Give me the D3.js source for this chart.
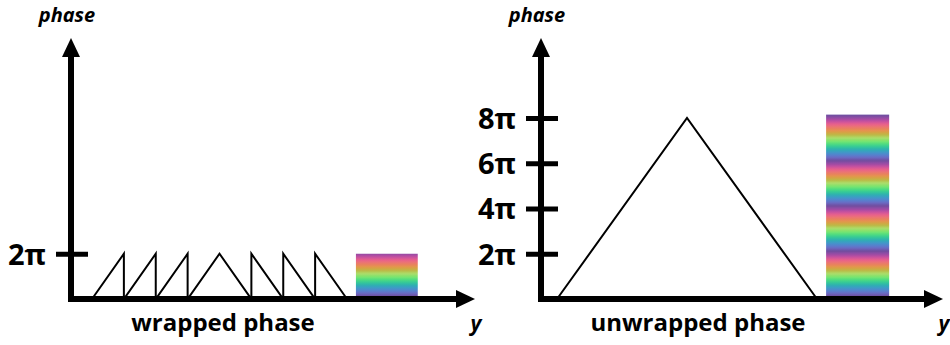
<!DOCTYPE html>
<html>
<head>
<meta charset="utf-8">
<script src="https://cdn.jsdelivr.net/npm/d3@7"></script>
<style>
  body { margin: 0; background: #fff; }
  svg { display: block; font-family: "Open Sans", sans-serif; }
</style>
</head>
<body>
<div id="chart"></div>
<script>
// phase values are in units of pi, y positions in arbitrary units
var wrappedY     = [0, 1, 1, 2, 2, 3, 3, 4, 5, 5, 6, 6, 7, 7, 8];
var wrappedPhase = [0, 2, 0, 2, 0, 2, 0, 2, 0, 2, 0, 2, 0, 2, 0];
var unwrappedY     = [0, 4, 8];
var unwrappedPhase = [0, 8, 0];
var wrappedTicks   = [2];
var unwrappedTicks = [2, 4, 6, 8];
var barY = [8.28, 10.22];
var wrappedBar   = [0, 2];
var unwrappedBar = [0, 8.15];

var W = 950, H = 345;
var axisY = 299, topTip = 38;

var svg = d3.select("#chart").append("svg")
  .attr("width", W).attr("height", H);

var y = d3.scaleLinear().domain([0, 8]).range([axisY, 118]);

// repeating rainbow, one period = 2pi
var grad = svg.append("defs").append("linearGradient")
  .attr("id", "rainbow")
  .attr("gradientUnits", "userSpaceOnUse")
  .attr("spreadMethod", "repeat")
  .attr("x1", 0).attr("x2", 0)
  .attr("y1", y(2)).attr("y2", y(0));
grad.selectAll("stop")
  .data(d3.range(0, 1.0001, 0.025))
  .enter().append("stop")
  .attr("offset", function(o){ return o; })
  .attr("stop-color", function(o){
    var c = d3.hsl(d3.interpolateRainbow((o + 0.06) % 1));
    c.s = c.s * 0.75;
    return c.formatHex();
  });

var panels = [
  {ax: 71, tip: 475, range: [92, 347], xs: wrappedY, ps: wrappedPhase,
   ticks: wrappedTicks, bar: wrappedBar, title: "wrapped phase", tcx: 223},
  {ax: 541, tip: 943, range: [557, 817], xs: unwrappedY, ps: unwrappedPhase,
   ticks: unwrappedTicks, bar: unwrappedBar, title: "unwrapped phase", tcx: 698}
];

panels.forEach(function(p){
  var x = d3.scaleLinear().domain([0, 8]).range(p.range);
  var g = svg.append("g");

  // colour bar
  g.append("rect")
    .attr("x", x(barY[0]))
    .attr("width", x(barY[1]) - x(barY[0]))
    .attr("y", y(p.bar[1]))
    .attr("height", y(p.bar[0]) - y(p.bar[1]))
    .attr("fill", "url(#rainbow)");

  // phase curve
  var pts = p.xs.map(function(v, i){ return [v, p.ps[i]]; });
  g.append("path")
    .attr("d", d3.line().x(function(d){ return x(d[0]); }).y(function(d){ return y(d[1]); })(pts))
    .attr("fill", "none")
    .attr("stroke", "#000")
    .attr("stroke-width", 2);

  // y axis ticks
  var yAxis = g.append("g")
    .attr("transform", "translate(" + p.ax + ",0)")
    .call(d3.axisLeft(y).tickValues(p.ticks).tickFormat(function(d){ return d + "π"; }).tickSize(0));
  yAxis.select(".domain").remove();
  yAxis.selectAll(".tick line")
    .attr("x1", -15).attr("x2", 17)
    .attr("stroke", "#000").attr("stroke-width", 5);
  yAxis.selectAll(".tick text")
    .attr("x", -25)
    .attr("dy", "0.36em")
    .style("font-family", "'Open Sans', sans-serif")
    .style("font-size", "29px")
    .style("font-weight", "bold")
    .attr("fill", "#000");

  // axis lines + arrows
  g.append("line")
    .attr("x1", p.ax).attr("x2", p.ax)
    .attr("y1", axisY + 3).attr("y2", topTip + 15)
    .attr("stroke", "#000").attr("stroke-width", 6);
  g.append("path")
    .attr("d", "M" + p.ax + "," + topTip + "L" + (p.ax + 9) + "," + (topTip + 19) + "L" + (p.ax - 9) + "," + (topTip + 19) + "Z")
    .attr("fill", "#000");
  g.append("line")
    .attr("x1", p.ax - 3).attr("x2", p.tip - 15)
    .attr("y1", axisY).attr("y2", axisY)
    .attr("stroke", "#000").attr("stroke-width", 6);
  g.append("path")
    .attr("d", "M" + p.tip + "," + axisY + "L" + (p.tip - 19) + "," + (axisY - 9) + "L" + (p.tip - 19) + "," + (axisY + 9) + "Z")
    .attr("fill", "#000");

  // labels
  g.append("text")
    .attr("x", p.ax - 4).attr("y", 22)
    .attr("text-anchor", "middle")
    .style("font-size", "20px").style("font-weight", "bold").style("font-style", "italic")
    .text("phase");
  g.append("text")
    .attr("x", p.tip + 1).attr("y", 331)
    .attr("text-anchor", "middle")
    .style("font-size", "21px").style("font-weight", "bold").style("font-style", "italic")
    .text("y");
  g.append("text")
    .attr("x", p.tcx).attr("y", 331)
    .attr("text-anchor", "middle")
    .style("font-size", "24px").style("font-weight", "bold")
    .text(p.title);
});
</script>
</body>
</html>
